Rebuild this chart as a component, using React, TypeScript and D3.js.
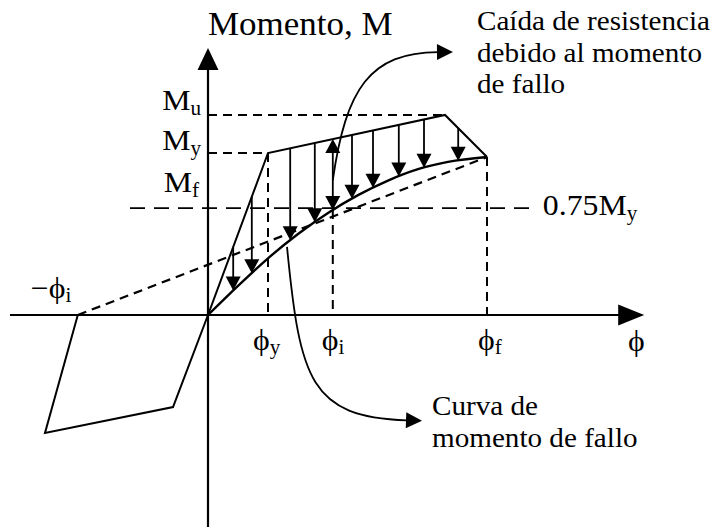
import React from "react";
import * as d3 from "d3";

const W = 712;
const H = 527;

// Curvature in units of φy, moment in units of My
const phiY = 1.0;
const phiI = 2.08;
const phiU = 3.95;
const phiF = 4.65;
const phiNegI = -2.17;
const momentY = 1.0;
const momentU = 1.235;
const momentLevel = 0.66; // height of the 0.75My reference line
const momentEnd = 0.975;

// Axis extents
const phiAxis = [-3.3, 7.27];
const momentAxis = [-1.309, 1.648];

// Backbone: elastic, hardening and softening branches
const backbonePhi = [0, phiY, phiU, phiF];
const backboneM = [0, momentY, momentU, momentEnd];

// Failure-moment curve
const failurePhi = [0, 0.5, 1.0, 1.5, 2.0, 2.5, 3.0, 3.5, 4.0, 4.65];
const failureM = [0, 0.18, 0.35, 0.5, 0.63, 0.74, 0.83, 0.9, 0.945, 0.975];

// Reversed loading branch down to -φi
const reversePhi = [0, -0.583, -2.717, phiNegI];
const reverseM = [0, -0.568, -0.728, 0];

// Reloading line from -φi
const reloadPhi = [phiNegI, phiF];
const reloadM = [0, momentEnd];

// Strength-drop arrows (curvatures)
const dropPhi = [0.42, 0.73, 1.37, 1.78, phiI, 2.4, 2.75, 3.18, 3.6, 4.17];

// Callout paths (cubic Bézier control points, data units)
const calloutDropPhi = [phiI, 2.3, 2.7, 3.833];
const calloutDropM = [0.833, 1.4, 1.62, 1.623];
const calloutCurvePhi = [1.317, 1.533, 1.7, 3.317];
const calloutCurveM = [0.42, -0.401, -0.63, -0.65];

const dropLines = ["Caída de resistencia", "debido al momento", "de fallo"];
const curveLines = ["Curva de", "momento de fallo"];

const FONT = '"Liberation Serif", "Times New Roman", Times, serif';
const SX = 1.06;

const x = d3.scaleLinear().domain([0, phiY]).range([208, 268]);
const y = d3.scaleLinear().domain([0, momentY]).range([315, 153]);

const zip = (a: number[], b: number[]) => a.map((v, i) => [v, b[i]] as [number, number]);

const lineGen = d3
  .line<[number, number]>()
  .x((d) => x(d[0]))
  .y((d) => y(d[1]));

const smoothGen = d3
  .line<[number, number]>()
  .x((d) => x(d[0]))
  .y((d) => y(d[1]))
  .curve(d3.curveMonotoneX);

const failureAt = d3.scaleLinear().domain(failurePhi).range(failureM);
const envelopeAt = d3.scaleLinear().domain(backbonePhi).range(backboneM);

function head(tx: number, ty: number, dx: number, dy: number, len: number, half: number) {
  const l = Math.hypot(dx, dy);
  const ux = dx / l;
  const uy = dy / l;
  const bx = tx - ux * len;
  const by = ty - uy * len;
  return `M${tx},${ty}L${bx - uy * half},${by + ux * half}L${bx + uy * half},${by - ux * half}Z`;
}

function Label({
  px,
  py,
  size,
  children,
  anchor = "start",
}: {
  px: number;
  py: number;
  size: number;
  children: React.ReactNode;
  anchor?: string;
}) {
  return (
    <text
      transform={`translate(${px},${py}) scale(${SX},1)`}
      style={{ fontFamily: FONT, fontSize: size }}
      textAnchor={anchor}
      fill="#000"
    >
      {children}
    </text>
  );
}

function Callout({ phis, ms }: { phis: number[]; ms: number[] }) {
  const p = phis.map((v, i) => [x(v), y(ms[i])]);
  const path = d3.path();
  path.moveTo(p[0][0], p[0][1]);
  path.bezierCurveTo(p[1][0], p[1][1], p[2][0], p[2][1], p[3][0], p[3][1]);
  const dx = p[3][0] - p[2][0];
  const dy = p[3][1] - p[2][1];
  const l = Math.hypot(dx, dy);
  const tx = p[3][0] + (dx / l) * 15;
  const ty = p[3][1] + (dy / l) * 15;
  return (
    <g>
      <path d={path.toString()} fill="none" stroke="#000" strokeWidth={1.8} />
      <path d={head(tx, ty, dx, dy, 16, 8)} fill="#000" />
    </g>
  );
}

export default function App() {
  const x0 = x(0);
  const y0 = y(0);
  const xEnd = x(phiAxis[1]);
  const yTop = y(momentAxis[1]);

  const dash = "9,6";

  return (
    <svg width={W} height={H} style={{ position: "absolute", left: 0, top: 0, background: "#fff" }}>
      <rect width={W} height={H} fill="#fff" />

      {/* axes */}
      <line x1={x(phiAxis[0])} y1={y0} x2={xEnd - 20} y2={y0} stroke="#000" strokeWidth={2.2} />
      <path d={head(xEnd, y0, 1, 0, 26, 10.5)} fill="#000" />
      <line x1={x0} y1={y(momentAxis[0])} x2={x0} y2={yTop + 18} stroke="#000" strokeWidth={2.2} />
      <path d={head(x0, yTop, 0, -1, 22, 10.5)} fill="#000" />

      {/* reference dashed lines */}
      <line x1={x0} y1={y(momentU)} x2={x(phiU)} y2={y(momentU)} stroke="#000" strokeWidth={2} strokeDasharray={dash} />
      <line x1={x0} y1={y(momentY)} x2={x(phiY)} y2={y(momentY)} stroke="#000" strokeWidth={2} strokeDasharray={dash} />
      <line x1={x(-1.3)} y1={y(momentLevel)} x2={x(5.42)} y2={y(momentLevel)} stroke="#000" strokeWidth={1.6} strokeDasharray="15,9" />
      <line x1={x(phiY)} y1={y(momentY)} x2={x(phiY)} y2={y0} stroke="#000" strokeWidth={2} strokeDasharray={dash} />
      <line x1={x(phiI)} y1={y(failureAt(phiI))} x2={x(phiI)} y2={y0} stroke="#000" strokeWidth={2} strokeDasharray={dash} />
      <line x1={x(phiF)} y1={y(momentEnd)} x2={x(phiF)} y2={y0} stroke="#000" strokeWidth={2} strokeDasharray={dash} />

      {/* reloading dashed line */}
      <path d={lineGen(zip(reloadPhi, reloadM)) ?? ""} fill="none" stroke="#000" strokeWidth={2.2} strokeDasharray={dash} />

      {/* backbone and reversed branch */}
      <path d={lineGen(zip(backbonePhi, backboneM)) ?? ""} fill="none" stroke="#000" strokeWidth={2} strokeLinejoin="miter" />
      <path d={lineGen(zip(reversePhi, reverseM)) ?? ""} fill="none" stroke="#000" strokeWidth={2} />

      {/* failure-moment curve */}
      <path d={smoothGen(zip(failurePhi, failureM)) ?? ""} fill="none" stroke="#000" strokeWidth={2.4} />

      {/* strength-drop arrows */}
      {dropPhi.map((p, i) => {
        const px = x(p);
        const top = y(envelopeAt(p));
        const bot = y(failureAt(p));
        const both = p === phiI;
        return (
          <g key={i}>
            <line x1={px} y1={both ? top + 12 : top} x2={px} y2={bot - 12} stroke="#000" strokeWidth={1.8} />
            <path d={head(px, bot, 0, 1, 14, 7.5)} fill="#000" />
            {both && <path d={head(px, top, 0, -1, 14, 7.5)} fill="#000" />}
          </g>
        );
      })}

      {/* callouts */}
      <Callout phis={calloutDropPhi} ms={calloutDropM} />
      <Callout phis={calloutCurvePhi} ms={calloutCurveM} />

      {/* axis titles */}
      <Label px={x0} py={35} size={33}>Momento, M</Label>
      <Label px={628} py={351} size={30}>ϕ</Label>

      {/* moment labels */}
      <Label px={201} py={y(momentU) - 5} size={30} anchor="end">
        M<tspan style={{ fontSize: 20 }} dy={5}>u</tspan>
      </Label>
      <Label px={201} py={y(momentY) - 3} size={30} anchor="end">
        M<tspan style={{ fontSize: 20 }} dy={5}>y</tspan>
      </Label>
      <Label px={199} py={y(momentLevel) - 16} size={30} anchor="end">
        M<tspan style={{ fontSize: 20 }} dy={5}>f</tspan>
      </Label>
      <Label px={x(5.58)} py={y(momentLevel) + 7} size={30}>
        0.75M<tspan style={{ fontSize: 20 }} dy={5}>y</tspan>
      </Label>

      {/* curvature labels */}
      <Label px={x(phiY) - 15} py={350} size={30}>
        ϕ<tspan style={{ fontSize: 20 }} dy={4}>y</tspan>
      </Label>
      <Label px={x(phiI) - 11} py={350} size={30}>
        ϕ<tspan style={{ fontSize: 20 }} dy={4}>i</tspan>
      </Label>
      <Label px={x(phiF) - 9} py={350} size={30}>
        ϕ<tspan style={{ fontSize: 20 }} dy={4}>f</tspan>
      </Label>
      <Label px={x(phiNegI) - 47} py={298} size={30}>
        −ϕ<tspan style={{ fontSize: 20 }} dy={4}>i</tspan>
      </Label>

      {/* annotations */}
      {dropLines.map((t, i) => (
        <Label key={t} px={477} py={30 + i * 31.5} size={27.5}>
          {t}
        </Label>
      ))}
      {curveLines.map((t, i) => (
        <Label key={t} px={432} py={415 + i * 32} size={27.5}>
          {t}
        </Label>
      ))}
    </svg>
  );
}
